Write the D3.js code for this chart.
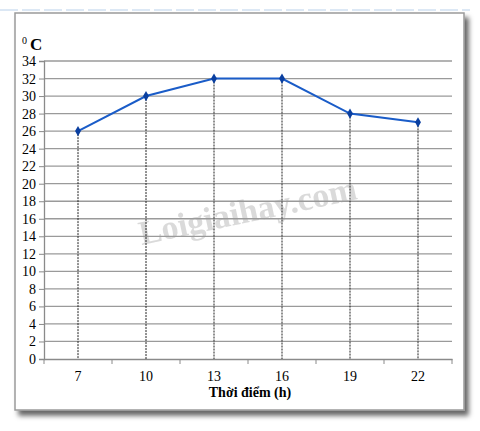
<!DOCTYPE html>
<html><head><meta charset="utf-8">
<script src="https://cdn.jsdelivr.net/npm/d3@7"></script>
<style>html,body{margin:0;padding:0;background:#fff;}svg{display:block;}</style>
</head><body>
<script>
const hours = ["7","10","13","16","19","22"];
const temps = [26,30,32,32,28,27];
const yTicks = [0,2,4,6,8,10,12,14,16,18,20,22,24,26,28,30,32,34];
const xTitle = "Thời điểm (h)";

const W=480,H=431;
const svg=d3.select("body").append("svg").attr("width",W).attr("height",H);
const defs=svg.append("defs");
const f=defs.append("filter").attr("id","sh").attr("x","-5%").attr("y","-5%").attr("width","115%").attr("height","115%");
f.append("feDropShadow").attr("dx",4).attr("dy",5).attr("stdDeviation",2.5).attr("flood-color","#000").attr("flood-opacity",0.6);

svg.append("line").attr("x1",0).attr("x2",470).attr("y1",10).attr("y2",10)
  .attr("stroke","#b8d0ea").attr("stroke-width",1).attr("stroke-dasharray","18,4");

svg.append("rect").attr("x",15).attr("y",13).attr("width",449).attr("height",397)
  .attr("fill","#fff").attr("stroke","#9a9a9a").attr("stroke-width",1.5).attr("filter","url(#sh)");

const x=d3.scaleBand().domain(hours).range([44,452]).padding(0);
const y=d3.scaleLinear().domain([0,34]).range([359,61]);

svg.append("text").attr("transform","translate(250,222) rotate(-12)")
  .attr("text-anchor","middle").attr("font-family","Liberation Serif").attr("font-weight","bold")
  .attr("text-rendering","geometricPrecision")
  .attr("font-size",34).attr("fill","#d4d4d4").attr("opacity",0.85).text("Loigiaihay.com");

svg.append("g").selectAll("line").data(yTicks.filter(d=>d>0)).join("line")
  .attr("x1",44).attr("x2",452).attr("y1",d=>y(d)).attr("y2",d=>y(d))
  .attr("stroke","#9a9a9a").attr("stroke-width",1.3);

const ya=svg.append("g").attr("transform","translate(44,0)")
  .call(d3.axisLeft(y).tickValues(yTicks).tickSize(5).tickPadding(3));
ya.select(".domain").attr("stroke","#8a8a8a").attr("stroke-width",1.3);
ya.selectAll(".tick line").attr("stroke","#8a8a8a");
ya.selectAll("text").attr("font-family","Liberation Serif").attr("font-size",14).attr("fill","#000");

const xa=svg.append("g").attr("transform","translate(0,359)")
  .call(d3.axisBottom(x).tickSize(0).tickPadding(12));
xa.select(".domain").attr("stroke","#8a8a8a").attr("stroke-width",1.3);
xa.selectAll("text").attr("font-family","Liberation Serif").attr("font-size",14).attr("fill","#000");
const bounds=hours.map(h=>x(h)).concat([452]);
svg.append("g").selectAll("line").data(bounds).join("line")
  .attr("x1",d=>d).attr("x2",d=>d).attr("y1",359).attr("y2",364).attr("stroke","#8a8a8a");

const cx=h=>x(h)+x.bandwidth()/2;
svg.append("g").selectAll("line").data(hours).join("line")
  .attr("x1",(d)=>cx(d)).attr("x2",d=>cx(d))
  .attr("y1",(d,i)=>y(temps[i])).attr("y2",359)
  .attr("stroke","#222").attr("stroke-width",1).attr("stroke-dasharray","2,1");

svg.append("path").datum(hours).attr("fill","none").attr("stroke","#1a5cc8").attr("stroke-width",2)
  .attr("d",d3.line().x(d=>cx(d)).y((d,i)=>y(temps[i])));
svg.append("g").selectAll("path").data(hours).join("path")
  .attr("transform",(d,i)=>`translate(${cx(d)},${y(temps[i])})`)
  .attr("d",d3.symbol(d3.symbolDiamond,30)).attr("fill","#0a3fa0");

const yl=svg.append("text").attr("x",22).attr("y",50).attr("font-family","Liberation Serif").attr("fill","#000");
yl.append("tspan").attr("font-size",10).attr("dy",-6).text("0");
yl.append("tspan").attr("font-size",17).attr("font-weight","bold").attr("dy",6).attr("dx",3).text("C");

svg.append("text").attr("x",250).attr("y",397).attr("text-anchor","middle")
  .attr("font-family","Liberation Serif").attr("font-weight","bold").attr("font-size",14).text(xTitle);
</script>
</body></html>
